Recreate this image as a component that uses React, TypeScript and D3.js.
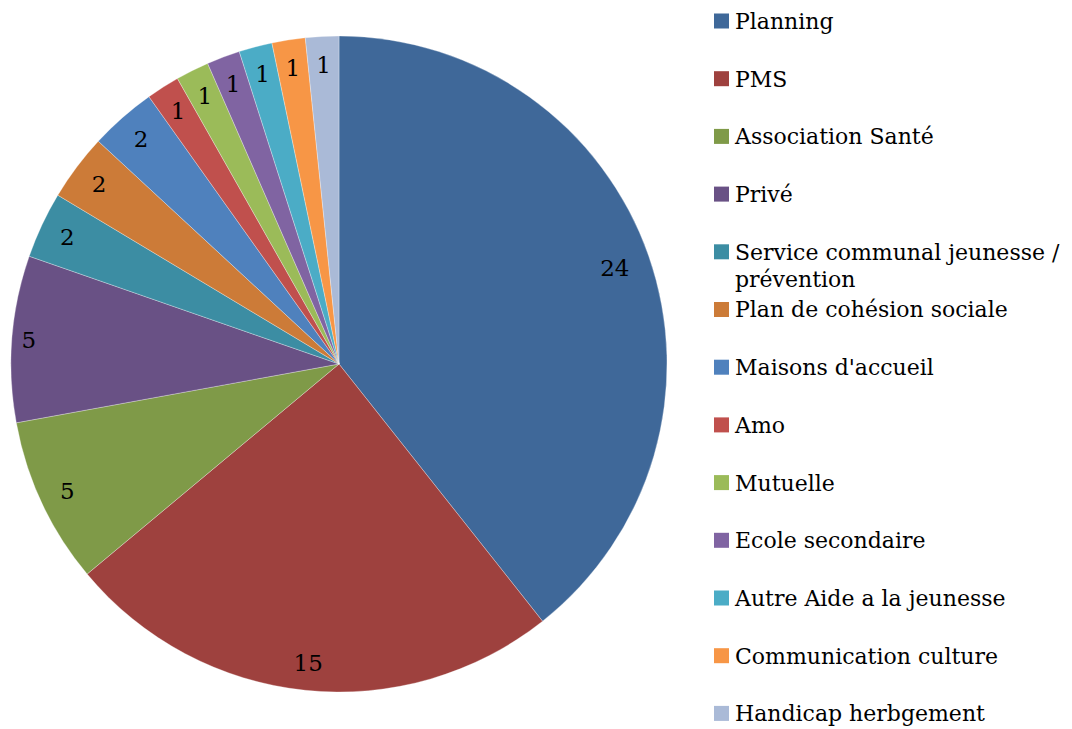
import React, { useEffect, useRef } from 'react';
import * as d3 from 'd3';

const categories = [
  'Planning',
  'PMS',
  'Association Santé',
  'Privé',
  'Service communal jeunesse / prévention',
  'Plan de cohésion sociale',
  "Maisons d'accueil",
  'Amo',
  'Mutuelle',
  'Ecole secondaire',
  'Autre Aide a la jeunesse',
  'Communication culture',
  'Handicap herbgement',
];
const values = [24, 15, 5, 5, 2, 2, 2, 1, 1, 1, 1, 1, 1];
const colors = [
  '#3F6899', '#9E413E', '#7F9A48', '#695185', '#3C8DA3', '#CC7B38', '#4F81BD',
  '#C0504D', '#9BBB59', '#8064A2', '#4BACC6', '#F79646', '#AABAD7',
];
// legend lines (the long label wraps onto two lines)
const legendLines = [
  ['Planning'],
  ['PMS'],
  ['Association Santé'],
  ['Privé'],
  ['Service communal jeunesse /', 'prévention'],
  ['Plan de cohésion sociale'],
  ["Maisons d'accueil"],
  ['Amo'],
  ['Mutuelle'],
  ['Ecole secondaire'],
  ['Autre Aide a la jeunesse'],
  ['Communication culture'],
  ['Handicap herbgement'],
];

const font = '"DejaVu Serif", serif';

const App = () => {
  const ref = useRef(null);

  useEffect(() => {
    const width = 1072;
    const height = 729;
    d3.select(ref.current).selectAll('*').remove();

    const svg = d3
      .select(ref.current)
      .append('svg')
      .attr('width', width)
      .attr('height', height)
      .style('display', 'block');

    const cx = 339;
    const cy = 364;
    const r = 328;

    const data = categories.map((c, i) => ({ name: c, value: values[i], color: colors[i] }));
    const pie = d3.pie<any>().sort(null).value(d => d.value);
    const arcs = pie(data);
    const arc = d3.arc<any>().innerRadius(0).outerRadius(r);

    // label distance from centre (Excel "best fit" puts a few a bit off)
    const labelR = (name: string) =>
      name === 'Planning' ? 292 : name === 'Privé' ? 311 : 300;
    const labelPos = (d: any) =>
      d3.arc<any>().innerRadius(labelR(d.data.name)).outerRadius(labelR(d.data.name)).centroid(d);

    const g = svg.append('g').attr('transform', `translate(${cx},${cy})`);

    g.selectAll('path')
      .data(arcs)
      .enter()
      .append('path')
      .attr('d', arc)
      .attr('fill', d => d.data.color)
      .attr('stroke', 'rgba(255,255,255,0.5)')
      .attr('stroke-width', 0.6);

    g.selectAll('text.lbl')
      .data(arcs)
      .enter()
      .append('text')
      .attr('class', 'lbl')
      .attr('x', d => labelPos(d)[0])
      .attr('y', d => labelPos(d)[1])
      .attr('dy', '0.36em')
      .attr('text-anchor', 'middle')
      .style('font-family', font)
      .style('font-size', '23px')
      .style('fill', '#000')
      .text(d => d.data.value);

    const legend = svg.append('g').attr('transform', 'translate(714, 21)');
    const step = 57.7;

    legendLines.forEach((lines, i) => {
      const row = legend.append('g').attr('transform', `translate(0, ${i * step})`);
      row
        .append('rect')
        .attr('x', 0)
        .attr('y', -7.5)
        .attr('width', 15)
        .attr('height', 15)
        .attr('fill', colors[i]);
      lines.forEach((line, j) => {
        row
          .append('text')
          .attr('x', 21)
          .attr('y', j * 27)
          .attr('dy', '0.36em')
          .style('font-family', font)
          .style('font-size', '22px')
          .style('fill', '#000')
          .text(line);
      });
    });
  }, []);

  return <div ref={ref} style={{ position: 'absolute', left: 0, top: 0 }}></div>;
};

export default App;
